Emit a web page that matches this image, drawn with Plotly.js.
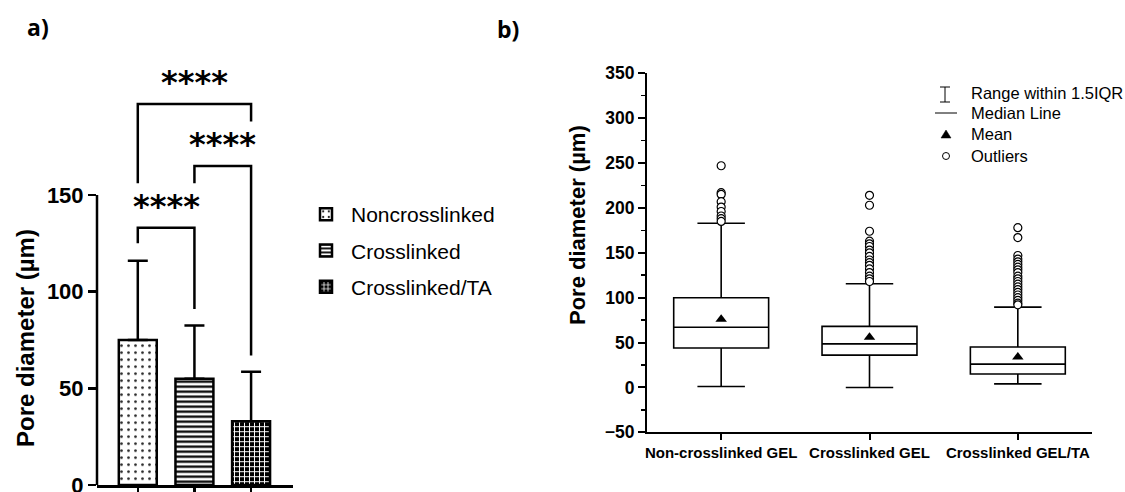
<!DOCTYPE html>
<html><head><meta charset="utf-8">
<script src="https://cdn.plot.ly/plotly-3.0.1.min.js"></script>
<style>html,body{margin:0;padding:0;background:#fff}#chart{width:1125px;height:492px}</style>
</head><body><div id="chart"></div>
<script>
// ---------- Panel a data ----------
const groupsA = ['Noncrosslinked', 'Crosslinked', 'Crosslinked/TA'];
const meansA = [75, 55, 33];
const sdA = [41, 27.5, 25.5];
const sigPairs = [[0, 1], [1, 2], [0, 2]];
const sigLevels = [133, 165, 197];
const sigLegLeft = [125, 156, 156];
const sigLegRight = [91, 67, 188];
const sigLabels = ['****', '****', '****'];
const yTicksA = [0, 50, 100, 150];
const yTitle = 'Pore diameter (µm)';

// ---------- Panel b data ----------
const catsB = ['Non-crosslinked GEL', 'Crosslinked GEL', 'Crosslinked GEL/TA'];
const q1B = [44, 36, 15];
const medianB = [67, 48.5, 26];
const q3B = [100, 68, 45];
const lowerB = [1, 0, 4];
const upperB = [183, 115.5, 89.5];
const meanB = [76, 56, 34];
const outliers1 = [247, 217, 215, 207, 201, 196, 191, 188, 185];
const outliers2 = [214, 203, 174, 163, 160, 157, 153, 150, 146, 142, 139, 136, 132, 128, 124, 121, 118];
const outliers3 = [178, 167, 147, 143, 140, 137, 134, 131, 128, 124, 121, 118, 115, 112, 109, 106, 103, 100, 97, 94, 92];
const legendB = ['Range within 1.5IQR', 'Median Line', 'Mean', 'Outliers'];

const W = 1125, H = 492;
const px = v => v / W;
const py = v => 1 - v / H;
const FONT = 'Liberation Sans, Arial, sans-serif';

const patterns = [
  {shape: '.', fgcolor: '#222', bgcolor: 'white', size: 7, solidity: 0.12},
  {shape: '-', fgcolor: 'black', bgcolor: 'white', size: 5, solidity: 0.45},
  {shape: '+', fgcolor: 'white', bgcolor: 'black', size: 5, solidity: 0.35}
];

const traces = [];
groupsA.forEach((g, i) => {
  traces.push({
    type: 'bar', name: g, x: [i], y: [meansA[i]], width: 0.67,
    legendgroup: 'g' + i,
    marker: {color: 'white', line: {color: 'black', width: 2.5}, pattern: patterns[i]},
    error_y: {type: 'data', symmetric: false, array: [sdA[i]], arrayminus: [0], color: 'black', thickness: 2.5, width: 10},
    xaxis: 'x', yaxis: 'y', hoverinfo: 'skip'
  });
});
sigPairs.forEach((p, k) => {
  traces.push({
    type: 'scatter', mode: 'lines', x: [p[0], p[0], p[1], p[1]],
    y: [sigLegLeft[k], sigLevels[k], sigLevels[k], sigLegRight[k]],
    line: {color: 'black', width: 2.5}, showlegend: false, hoverinfo: 'skip',
    xaxis: 'x', yaxis: 'y', cliponaxis: false
  });
});

// Panel b
traces.push({
  type: 'box', x: [0, 1, 2], q1: q1B, median: medianB, q3: q3B,
  lowerfence: lowerB, upperfence: upperB, width: 0.64, whiskerwidth: 0.5,
  fillcolor: 'white', line: {color: 'black', width: 1.6}, boxpoints: false,
  showlegend: false, hoverinfo: 'skip', xaxis: 'x2', yaxis: 'y2'
});
const allOut = [outliers1, outliers2, outliers3];
const ox = [], oy = [];
allOut.forEach((arr, i) => arr.forEach(v => { ox.push(i); oy.push(v); }));
traces.push({
  type: 'scatter', mode: 'markers', x: ox, y: oy,
  marker: {symbol: 'circle', size: 8, color: 'white', line: {color: 'black', width: 1.2}},
  showlegend: false, hoverinfo: 'skip', xaxis: 'x2', yaxis: 'y2'
});
traces.push({
  type: 'scatter', mode: 'markers', x: [0, 1, 2], y: meanB,
  marker: {symbol: 'triangle-up', size: 10, color: 'black'},
  showlegend: false, hoverinfo: 'skip', xaxis: 'x2', yaxis: 'y2'
});

const annotations = [];
sigPairs.forEach((p, k) => {
  annotations.push({
    xref: 'x', yref: 'y', x: (p[0] + p[1]) / 2, y: sigLevels[k], xanchor: 'center', yanchor: 'bottom', yshift: 1,
    text: sigLabels[k], showarrow: false,
    font: {family: 'DejaVu Sans, sans-serif', size: 32, weight: 'bold', color: 'black'}
  });
});
// axis titles (placed to match the reference positions)
annotations.push({xref: 'paper', yref: 'paper', x: px(25), y: py(338), xanchor: 'center', yanchor: 'middle', textangle: -90,
  text: yTitle, showarrow: false, font: {family: FONT, size: 24, weight: 'bold', color: 'black'}});
annotations.push({xref: 'paper', yref: 'paper', x: px(578), y: py(225), xanchor: 'center', yanchor: 'middle', textangle: -90,
  text: yTitle, showarrow: false, font: {family: FONT, size: 22, weight: 'bold', color: 'black'}});
annotations.push({xref: 'paper', yref: 'paper', x: px(38), y: py(27), xanchor: 'center', yanchor: 'middle', text: 'a)', showarrow: false,
  font: {family: 'Open Sans, sans-serif', size: 23, weight: 'bold', color: 'black'}});
annotations.push({xref: 'paper', yref: 'paper', x: px(508), y: py(29), xanchor: 'center', yanchor: 'middle', text: 'b)', showarrow: false,
  font: {family: 'Open Sans, sans-serif', size: 23, weight: 'bold', color: 'black'}});
const rowY = [93, 113, 134, 156];
legendB.forEach((t, k) => {
  annotations.push({xref: 'paper', yref: 'paper', x: px(969), y: py(rowY[k]), xanchor: 'left', yanchor: 'middle',
    text: t, showarrow: false, font: {family: FONT, size: 16.5, color: 'black'}});
});

const P = (x, y) => px(x) + ',' + py(y);
const shapes = [
  // panel a y-axis line up to 150 only
  {type: 'line', xref: 'x domain', yref: 'y', x0: 0, x1: 0, y0: 0, y1: yTicksA[yTicksA.length - 1], line: {color: 'black', width: 2.5}},
  // legend b symbols
  {type: 'path', xref: 'paper', yref: 'paper', path: 'M' + P(945, 87) + 'L' + P(945, 102) + 'M' + P(940, 87) + 'L' + P(950, 87) + 'M' + P(940, 102) + 'L' + P(950, 102), line: {color: 'black', width: 1}},
  {type: 'line', xref: 'paper', yref: 'paper', x0: px(935), x1: px(957), y0: py(113), y1: py(113), line: {color: 'black', width: 1}},
  {type: 'path', xref: 'paper', yref: 'paper', path: 'M' + P(941, 138) + 'L' + P(951, 138) + 'L' + P(946, 130) + 'Z', fillcolor: 'black', line: {color: 'black', width: 0.5}},
  {type: 'circle', xref: 'paper', yref: 'paper', x0: px(942.5), x1: px(949.5), y0: py(152.5), y1: py(159.5), line: {color: 'black', width: 1}}
];

const layout = {
  width: W, height: H, margin: {l: 0, r: 0, t: 0, b: 0},
  paper_bgcolor: 'white', plot_bgcolor: 'rgba(0,0,0,0)',
  font: {family: FONT, color: 'black'},
  barmode: 'overlay', showlegend: true,
  legend: {x: px(301), y: py(194), xanchor: 'left', yanchor: 'top', traceorder: 'grouped', tracegroupgap: 6,
    itemwidth: 40, font: {family: FONT, size: 21, color: 'black'}, bgcolor: 'rgba(0,0,0,0)'},
  xaxis: {domain: [px(97), px(293)], range: [-0.72, 2.74], anchor: 'y', showline: true, linewidth: 2.5, linecolor: 'black',
    ticks: 'outside', ticklen: 8, tickwidth: 2.5, tickcolor: 'black', tickvals: [0, 1, 2], showticklabels: false,
    showgrid: false, zeroline: false, automargin: false},
  yaxis: {domain: [py(485), py(485 - 215 * 1.934)], range: [0, 215], anchor: 'x', showline: false,
    ticks: 'outside', ticklen: 8, tickwidth: 2.5, tickcolor: 'black', tickvals: yTicksA, ticklabeloverflow: 'allow',
    tickfont: {family: FONT, size: 22, weight: 'bold'}, showgrid: false, zeroline: false, automargin: false},
  xaxis2: {domain: [px(647), px(1092)], range: [-0.5, 2.5], anchor: 'y2', showline: true, linewidth: 2, linecolor: 'black',
    ticks: 'outside', ticklen: 6, tickwidth: 2, tickcolor: 'black', tickvals: [0, 1, 2], ticktext: catsB,
    tickfont: {family: FONT, size: 15, weight: 'bold'}, showgrid: false, zeroline: false, automargin: false},
  yaxis2: {domain: [py(432.3), py(73.3)], range: [-50, 350], anchor: 'x2', showline: true, linewidth: 2, linecolor: 'black',
    ticks: 'outside', ticklen: 7, tickwidth: 2, tickcolor: 'black', dtick: 50, tick0: 0,
    minor: {ticks: 'outside', ticklen: 4, tickwidth: 1.5, tickcolor: 'black', dtick: 25, tick0: 0, showgrid: false},
    tickfont: {family: FONT, size: 17.5, weight: 'bold'}, showgrid: false, zeroline: false, automargin: false},
  annotations: annotations,
  shapes: shapes
};

Plotly.newPlot('chart', traces, layout, {staticPlot: true, displayModeBar: false});
</script>
</body></html>
